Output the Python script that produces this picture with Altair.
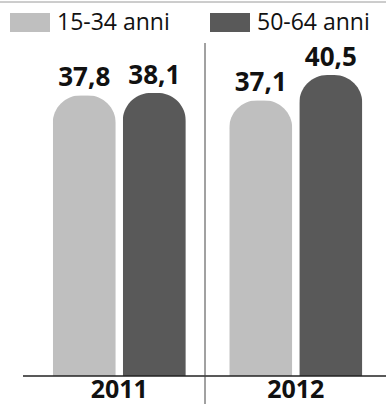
import altair as alt
import pandas as pd

# ---- data ----
years = ["2011", "2011", "2012", "2012"]
groups = ["15-34 anni", "50-64 anni", "15-34 anni", "50-64 anni"]
values = [37.8, 38.1, 37.1, 40.5]
labels = ["37,8", "38,1", "37,1", "40,5"]
year_labels = ["2011", "2012"]
series = ["15-34 anni", "50-64 anni"]
colors = ["#bfbfbf", "#595959"]

df = pd.DataFrame({"anno": years, "gruppo": groups, "valore": values, "etichetta": labels})
yd = pd.DataFrame({"anno": year_labels})
one = pd.DataFrame({"k": [0]})

W, H = 353, 331
FONT = "Open Sans"

x = alt.X("anno:N", scale=alt.Scale(paddingInner=0, paddingOuter=0), axis=None)
xo = alt.XOffset("gruppo:N", sort=series,
                 scale=alt.Scale(paddingInner=0.1, paddingOuter=0.31))
y = alt.Y("valore:Q", scale=alt.Scale(domain=[0, 44.55]), axis=None)

color = alt.Color(
    "gruppo:N",
    scale=alt.Scale(domain=series, range=colors),
    legend=alt.Legend(
        title=None, orient="none", legendX=-21, legendY=-42.5,
        direction="horizontal", padding=0,
        symbolType="M-1,-0.475L1,-0.475L1,0.475L-1,0.475Z",
        symbolSize=1600, symbolStrokeWidth=0, symbolOpacity=1,
        labelFont=FONT, labelFontSize=23, labelColor="#111111",
        labelOffset=7, columnPadding=40,
    ),
)

bars = alt.Chart(df).mark_bar(
    cornerRadiusTopLeft=28, cornerRadiusTopRight=28
).encode(x=x, xOffset=xo, y=y, color=color)

text = alt.Chart(df).mark_text(
    dy=-9, baseline="alphabetic", font=FONT, fontSize=26,
    fontWeight="bold", color="#111111",
).encode(x=x, xOffset=xo, y=y, text="etichetta:N")

year_text = alt.Chart(yd).mark_text(
    baseline="alphabetic", font=FONT, fontSize=25,
    fontWeight="bold", color="#111111",
).encode(x=x, y=alt.value(H + 22), text="anno:N")

baseline = alt.Chart(one).mark_rule(color="#222222", strokeWidth=1.5).encode(
    x=alt.value(-8), x2=alt.value(W + 2), y=alt.value(H)
)
separator = alt.Chart(one).mark_rule(color="#444444", strokeWidth=1).encode(
    x=alt.value(174), y=alt.value(-2), y2=alt.value(H + 28)
)
topline = alt.Chart(one).mark_rule(color="#9a9a9a", strokeWidth=1).encode(
    x=alt.value(-31), x2=alt.value(W + 2), y=alt.value(-43)
)

chart = alt.layer(bars, text, year_text, baseline, separator, topline).properties(
    width=W, height=H,
    background="white",
    autosize=alt.AutoSizeParams(type="none"),
    padding={"left": 31, "top": 45, "right": 2, "bottom": 28},
).configure_view(strokeWidth=0, stroke="transparent").configure_axis(grid=False, domain=False)

chart.save("out.html", embed_options={"renderer": "svg", "actions": False})
